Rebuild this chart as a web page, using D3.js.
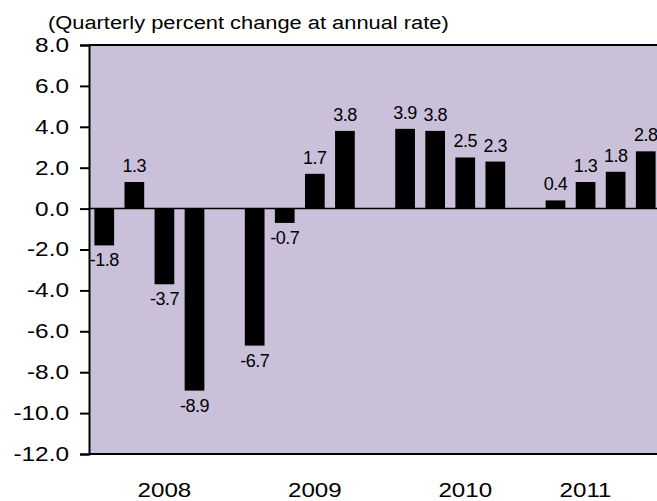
<!DOCTYPE html>
<html>
<head>
<meta charset="utf-8">
<script src="https://cdn.jsdelivr.net/npm/d3@7"></script>
<style>
  body { margin: 0; background: #fff; }
  text { font-family: "Liberation Sans", Arial, sans-serif; fill: #000; }
</style>
</head>
<body>
<div id="chart"></div>
<script>

// quarterly percent change at annual rate, Q1..Q4 of each year
var years = ["2008", "2009", "2010", "2011"];
var values2008 = [-1.8, 1.3, -3.7, -8.9];
var values2009 = [-6.7, -0.7, 1.7, 3.8];
var values2010 = [3.9, 3.8, 2.5, 2.3];
var values2011 = [0.4, 1.3, 1.8, 2.8];
var yTicks = [8, 6, 4, 2, 0, -2, -4, -6, -8, -10, -12];
var title = "(Quarterly percent change at annual rate)";

var margin = { left: 89, right: -4, top: 45, bottom: 47 };
var W = 657, H = 501;
var width = W - margin.left - margin.right;
var height = H - margin.top - margin.bottom;

// one empty slot between each year
var data = [];
[values2008, values2009, values2010, values2011].forEach(function (vals, i) {
  vals.forEach(function (v, q) {
    data.push({ year: years[i], q: q, slot: i * 5 + q, value: v });
  });
});
// where each year label sits, in slot units
var yearSlot = [2, 7, 12, 16];

// the original text is a little wide
function wide(sx) {
  return function (sel) {
    sel.attr("transform", function () {
      var t = d3.select(this);
      var tx = +t.attr("x"), ty = +t.attr("y");
      t.attr("x", 0).attr("y", 0);
      return "translate(" + tx + "," + ty + ") scale(" + sx + ",1)";
    });
  };
}

var svg = d3.select("#chart").append("svg")
  .attr("width", W)
  .attr("height", H);

var g = svg.append("g")
  .attr("transform", "translate(" + margin.left + "," + margin.top + ")");

var x = d3.scaleBand()
  .domain(d3.range(19))
  .range([0, width])
  .paddingInner(0.345)
  .paddingOuter(0.18);

var y = d3.scaleLinear()
  .domain([8, -12])
  .range([0, height]);

g.append("rect")
  .attr("width", width)
  .attr("height", height)
  .attr("fill", "#cac0da");

g.selectAll(".bar")
  .data(data).enter()
  .append("rect")
  .attr("class", "bar")
  .attr("x", function (d) { return x(d.slot); })
  .attr("y", function (d) { return y(Math.max(0, d.value)); })
  .attr("width", x.bandwidth())
  .attr("height", function (d) { return Math.abs(y(d.value) - y(0)); })
  .attr("fill", "#000");

// zero line and top/bottom border
g.append("line")
  .attr("x1", 0).attr("x2", width)
  .attr("y1", y(0)).attr("y2", y(0))
  .attr("stroke", "#000").attr("stroke-width", 1.5);
g.append("line")
  .attr("x1", 0).attr("x2", width)
  .attr("y1", 0).attr("y2", 0)
  .attr("stroke", "#000").attr("stroke-width", 2);
g.append("line")
  .attr("x1", 0).attr("x2", width)
  .attr("y1", height).attr("y2", height)
  .attr("stroke", "#000").attr("stroke-width", 2);

g.selectAll(".val")
  .data(data).enter()
  .append("text")
  .attr("class", "val")
  .attr("x", function (d) { return x(d.slot) + x.bandwidth() / 2; })
  .attr("y", function (d) { return d.value >= 0 ? y(d.value) - 10 : y(d.value) + 21; })
  .attr("text-anchor", "middle")
  .style("font-size", "18px")
  .style("letter-spacing", "-0.5px")
  .text(function (d) { return d.value.toFixed(1); });

var yAxis = d3.axisLeft(y)
  .tickValues(yTicks)
  .tickSize(9)
  .tickPadding(11)
  .tickFormat(function (d) { return d.toFixed(1); });

var ya = g.append("g").call(yAxis);
ya.select(".domain").attr("stroke-width", 2);
ya.selectAll(".tick line").attr("stroke-width", 2);
ya.selectAll(".tick text")
  .attr("fill", "#000")
  .style("font-size", "20px")
  .style("font-family", "Liberation Sans, Arial, sans-serif")
  .call(wide(1.22));

g.selectAll(".year")
  .data(years).enter()
  .append("text")
  .attr("class", "year")
  .attr("x", function (d, i) { return x(yearSlot[i]) + x.bandwidth() / 2; })
  .attr("y", height + 43)
  .attr("text-anchor", "middle")
  .style("font-size", "21px")
  .text(function (d) { return d; })
  .call(wide(1.15));

svg.append("text")
  .attr("x", 48)
  .attr("y", 29)
  .style("font-size", "19px")
  .text(title)
  .call(wide(1.15));

</script>
</body>
</html>
